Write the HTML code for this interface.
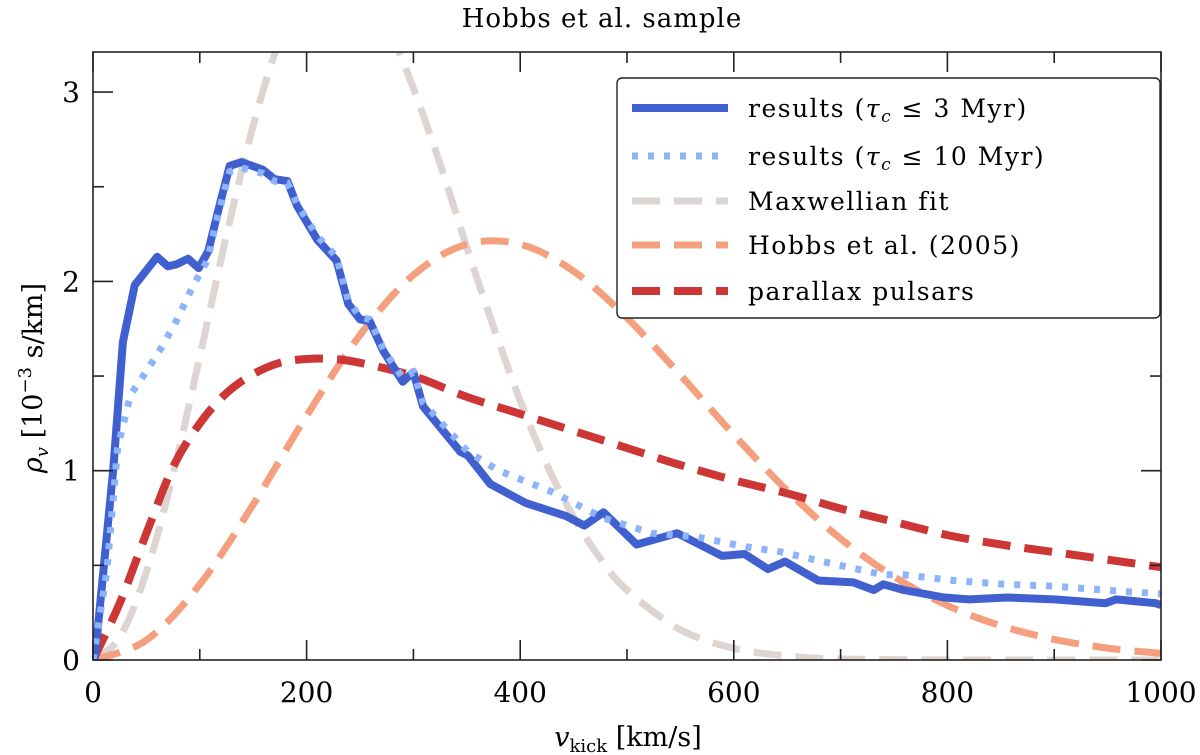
<!DOCTYPE html>
<html><head><meta charset="utf-8">
<style>
html,body{margin:0;padding:0;background:#fff;}
svg{display:block;font-family:"DejaVu Serif","Liberation Serif",serif;}
</style></head>
<body>
<svg id="chart" width="1200" height="755" viewBox="0 0 1200 755" xmlns="http://www.w3.org/2000/svg">
<text x="602" y="27" font-size="26" letter-spacing="1" text-anchor="middle">Hobbs et al. sample</text>
<g id="plot"></g>
<text x="628" y="746" font-size="27" text-anchor="middle"><tspan font-style="italic">v</tspan><tspan font-size="18" dy="6">kick</tspan><tspan dy="-6"> [km/s]</tspan></text>
<text transform="translate(42,378) rotate(-90)" font-size="27" text-anchor="middle"><tspan font-style="italic">ρ</tspan><tspan font-size="18" dy="6" font-style="italic">v</tspan><tspan dy="-6">  [10</tspan><tspan font-size="18" dy="-11">−3</tspan><tspan dy="11"> s/km]</tspan></text>
</svg>
<script>
const v3x = [0,2,19,28,39,60,70,78,89,99,108,117,128,139,159,170,182,191,210,228,239,250,259,272,290,300,309,325,344,351,372,405,443,460,478,509,547,589,610,632,648,679,712,731,740,759,797,820,856,900,948,958,995,1000];
const v3y = [0,0.02,1.01,1.68,1.98,2.13,2.08,2.09,2.12,2.07,2.16,2.37,2.61,2.63,2.59,2.54,2.53,2.40,2.22,2.11,1.88,1.80,1.79,1.63,1.47,1.52,1.34,1.23,1.10,1.08,0.93,0.83,0.76,0.71,0.78,0.61,0.67,0.55,0.56,0.48,0.52,0.42,0.41,0.37,0.40,0.37,0.33,0.32,0.33,0.32,0.30,0.32,0.30,0.29];
const v10x = [0,13,23,35,47,63,78,94,107,117,128,139,159,170,182,191,210,228,239,250,259,272,290,300,309,325,351,380,429,478,523,566,609,645,683,740,759,806,853,900,971,1000];
const v10y = [0,0.47,1.12,1.40,1.50,1.64,1.79,1.98,2.11,2.35,2.58,2.60,2.57,2.53,2.52,2.41,2.24,2.13,1.90,1.81,1.80,1.64,1.49,1.52,1.36,1.26,1.10,1.00,0.89,0.75,0.67,0.65,0.60,0.57,0.52,0.45,0.45,0.42,0.40,0.39,0.36,0.35];
const maxX = [0,25,50,75,100,125,150,175,200,225,250,275,300,325,350,375,400,425,450,475,500,550,600,650,700,800,1000];
const maxY = [0,0.120,0.464,0.982,1.602,2.243,2.823,3.28,3.57,3.67,3.59,3.36,3.02,2.62,2.18,1.76,1.37,1.03,0.755,0.536,0.369,0.160,0.062,0.0215,0.006,0.0003,0];
const hobX = [0,50,100,150,200,250,300,350,400,450,500,550,600,650,700,750,800,850,900,950,1000];
const hobY = [0,0.105,0.399,0.822,1.290,1.717,2.034,2.196,2.196,2.054,1.807,1.505,1.190,0.895,0.641,0.440,0.288,0.181,0.109,0.063,0.035];
const parX = [0,25,50,75,100,125,150,175,200,225,250,300,350,400,450,500,550,600,650,700,750,800,850,900,950,1000];
const parY = [0,0.30,0.67,1.02,1.25,1.41,1.51,1.57,1.59,1.59,1.57,1.50,1.39,1.30,1.21,1.12,1.03,0.95,0.88,0.80,0.73,0.66,0.61,0.57,0.53,0.49];
const xTicks = [0,200,400,600,800,1000];
const xTickLabels = ["0","200","400","600","800","1000"];
const yTicks = [0,1,2,3];
const yTickLabels = ["0","1","2","3"];

const L=93,R=1161,T=52,B=660, XMAX=1000, YMAX=(660-52)/189.3;
const sx=v=>L+(v/XMAX)*(R-L);
const sy=v=>B-(v/YMAX)*(B-T);
const NS="http://www.w3.org/2000/svg";
const plot=document.getElementById('plot');
function mk(tag,attrs,parent){const e=document.createElementNS(NS,tag);for(const k in attrs)e.setAttribute(k,attrs[k]);(parent||plot).appendChild(e);return e;}

const defs=mk('defs',{});
const cp=mk('clipPath',{id:'clip'},defs);
mk('rect',{x:L,y:T,width:R-L,height:B-T},cp);
const g=mk('g',{'clip-path':'url(#clip)'});

function linePath(xs,ys){return xs.map((x,i)=>(i?'L':'M')+sx(x).toFixed(1)+','+sy(ys[i]).toFixed(1)).join('');}
function smoothPath(xs,ys){
  const p=xs.map((x,i)=>[sx(x),sy(ys[i])]);
  let d='M'+p[0][0]+','+p[0][1];
  for(let i=0;i<p.length-1;i++){
    const p0=p[Math.max(0,i-1)],p1=p[i],p2=p[i+1],p3=p[Math.min(p.length-1,i+2)];
    const c1=[p1[0]+(p2[0]-p0[0])/6,p1[1]+(p2[1]-p0[1])/6];
    const c2=[p2[0]-(p3[0]-p1[0])/6,p2[1]-(p3[1]-p1[1])/6];
    d+='C'+c1[0].toFixed(1)+','+c1[1].toFixed(1)+' '+c2[0].toFixed(1)+','+c2[1].toFixed(1)+' '+p2[0].toFixed(1)+','+p2[1].toFixed(1);
  }
  return d;
}
const styles={
  maxw:{stroke:'#ddd5d2','stroke-width':7,'stroke-dasharray':'28,14'},
  hob:{stroke:'#f4a07f','stroke-width':7,'stroke-dasharray':'28,14'},
  par:{stroke:'#cc3634','stroke-width':8,'stroke-dasharray':'28,14'},
  v10:{stroke:'#8db4fb','stroke-width':7,'stroke-dasharray':'6,10'},
  v3:{stroke:'#4160d0','stroke-width':8,'stroke-linejoin':'round'}
};
let e;
e=mk('path',Object.assign({d:smoothPath(maxX,maxY),fill:'none'},styles.maxw),g);


e=mk('path',Object.assign({d:smoothPath(hobX,hobY),fill:'none'},styles.hob),g);


e=mk('path',Object.assign({d:smoothPath(parX,parY),fill:'none'},styles.par),g);


e=mk('path',Object.assign({d:linePath(v3x,v3y),fill:'none'},styles.v3),g);


e=mk('path',Object.assign({d:linePath(v10x,v10y),fill:'none'},styles.v10),g);



e=mk('rect',{x:L,y:T,width:R-L,height:B-T,fill:'none',stroke:'#222','stroke-width':1.6});


const tk=mk('g',{stroke:'#222','stroke-width':1.6});
for(let v=0;v<=XMAX;v+=100){
  const major=v%200===0, len=major?20:11, x=sx(v);
  mk('line',{x1:x,y1:B,x2:x,y2:B-len},tk);
  mk('line',{x1:x,y1:T,x2:x,y2:T+len},tk);
}
for(let v=0;v<=3;v+=0.5){
  const major=v%1===0, len=major?20:11, y=sy(v);
  mk('line',{x1:L,y1:y,x2:L+len,y2:y},tk);
  mk('line',{x1:R,y1:y,x2:R-len,y2:y},tk);
}
xTicks.forEach((v,i)=>{
  const t=mk('text',{x:sx(v),y:702,'font-size':28,'text-anchor':'middle'});
  t.textContent=xTickLabels[i];
  
  
});
yTicks.forEach((v,i)=>{
  const t=mk('text',{x:80,y:sy(v)+10,'font-size':28,'text-anchor':'end'});
  t.textContent=yTickLabels[i];
  
  
});
const lg=mk('g',{});


mk('rect',{x:617,y:78,width:543,height:240,rx:5,fill:'#fff',stroke:'#222','stroke-width':1.4},lg);
const entries=[
  ['v3','results (',true,'≤ 3 Myr)',108],
  ['v10','results (',true,'≤ 10 Myr)',156],
  ['maxw','Maxwellian fit',false,'',201],
  ['hob','Hobbs et al. (2005)',false,'',245],
  ['par','parallax pulsars',false,'',291]
];
entries.forEach(en=>{
  const eg=mk('g',{},lg);
  
  
  mk('line',Object.assign({x1:632,y1:en[4],x2:728,y2:en[4]},styles[en[0]]),eg);
  const t=mk('text',{x:748,y:en[4]+9,'font-size':25,'letter-spacing':'1.5'},eg);
  if(en[2]){
    t.innerHTML=en[1]+'<tspan font-style="italic">τ</tspan><tspan font-style="italic" font-size="17" dy="5">c</tspan><tspan dy="-5"> '+en[3]+'</tspan>';
  } else t.textContent=en[1];
});
</script>
</body></html>
